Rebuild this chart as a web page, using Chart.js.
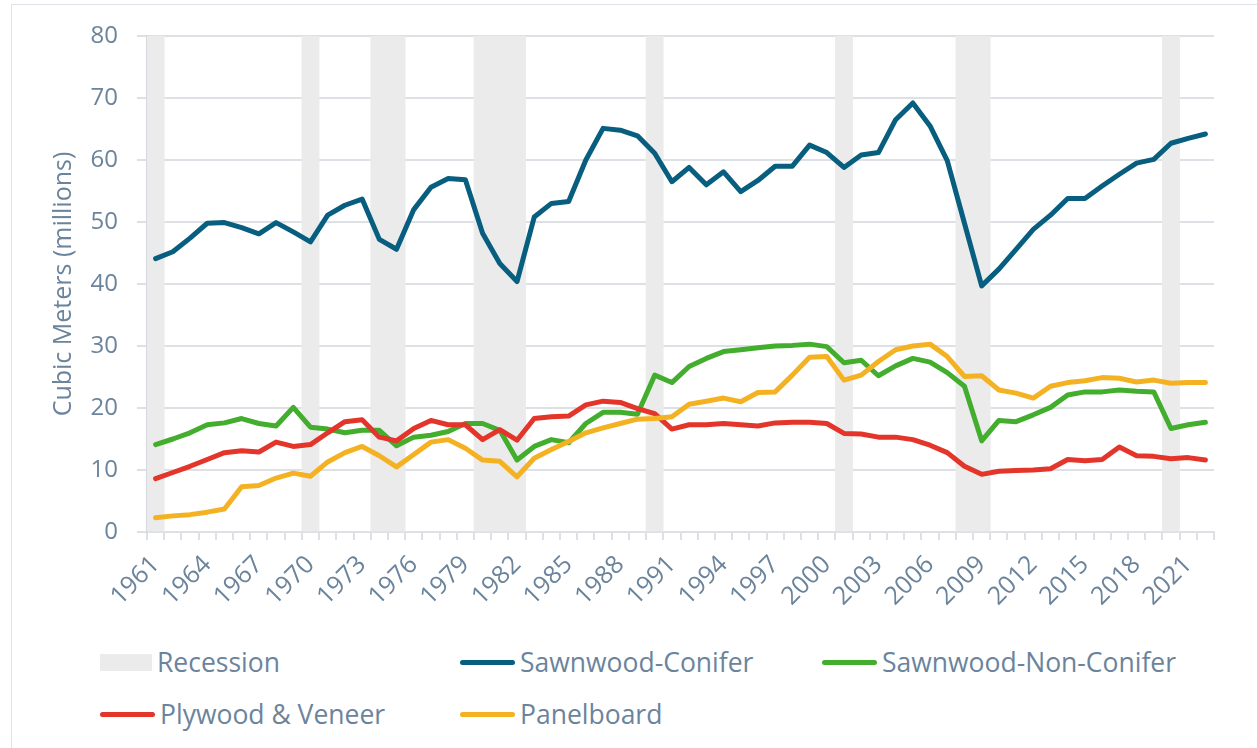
<!DOCTYPE html>
<html lang="en">
<head>
    <meta charset="UTF-8">
    <title>Wood Products Production</title>
    <script src="https://cdn.jsdelivr.net/npm/chart.js"></script>
    <style>
        body { margin: 0; background: #fff; font-family: "Open Sans", sans-serif; }
        .frame { position: absolute; left: 11px; top: 4px; width: 1300px; height: 800px;
                 border-left: 1px solid #dfe3e8; border-top: 1px solid #dfe3e8; }
        #woodChart { position: absolute; left: 0; top: 0; }
        .legend-item { position: absolute; display: flex; align-items: center; height: 30px;
                       font-size: 26.5px; color: #6b849c; white-space: nowrap; }
        .legend-item .line { width: 55px; height: 5px; border-radius: 3px; margin-right: 5px; }
        .legend-item .box { width: 52px; height: 17px; margin-right: 5px; }
    </style>
</head>
<body>
    <div class="frame"></div>
    <canvas id="woodChart" width="1257" height="640"></canvas>
    <div id="legend"></div>
    <script>
        const years = [];
        for (let y = 1961; y <= 2022; y++) years.push(String(y));

        const recessionYears = ['1961', '1970', '1974', '1975', '1980', '1981', '1982',
                                '1990', '2001', '2008', '2009', '2020'];

        // cubic meters, millions
        const sawnConifer = [
            44.1, 45.2, 47.4, 49.8, 49.9, 49.1, 48.1, 49.9, 48.4, 46.8,
            51.1, 52.7, 53.7, 47.2, 45.6, 52.0, 55.6, 57.0, 56.8, 48.2,
            43.3, 40.4, 50.8, 53.0, 53.3, 60.0, 65.1, 64.8, 63.9, 61.1,
            56.5, 58.8, 56.0, 58.1, 54.9, 56.7, 59.0, 59.0, 62.4, 61.2,
            58.8, 60.8, 61.2, 66.5, 69.2, 65.5, 59.9, 49.8, 39.7, 42.4,
            45.6, 48.8, 51.1, 53.8, 53.8, 55.8, 57.7, 59.5, 60.1, 62.7,
            63.5, 64.2
        ];
        const sawnNonConifer = [
            14.1, 15.0, 16.0, 17.3, 17.6, 18.3, 17.5, 17.1, 20.1, 16.9,
            16.6, 16.0, 16.4, 16.4, 13.9, 15.3, 15.6, 16.2, 17.5, 17.5,
            16.4, 11.6, 13.8, 14.9, 14.4, 17.5, 19.3, 19.3, 19.0, 25.3,
            24.1, 26.7, 28.0, 29.1, 29.4, 29.7, 30.0, 30.1, 30.3, 29.9,
            27.3, 27.7, 25.2, 26.8, 28.0, 27.4, 25.7, 23.5, 14.7, 18.0,
            17.8, 18.9, 20.1, 22.1, 22.6, 22.6, 22.9, 22.7, 22.6, 16.7,
            17.3, 17.7
        ];
        const plywood = [
            8.6, 9.6, 10.6, 11.7, 12.8, 13.1, 12.9, 14.5, 13.8, 14.1,
            16.0, 17.8, 18.1, 15.3, 14.7, 16.7, 18.0, 17.3, 17.3, 14.9,
            16.5, 14.8, 18.3, 18.6, 18.7, 20.5, 21.1, 20.9, 19.9, 19.1,
            16.6, 17.3, 17.3, 17.5, 17.3, 17.1, 17.6, 17.7, 17.7, 17.5,
            15.9, 15.8, 15.3, 15.3, 14.9, 14.0, 12.8, 10.6, 9.3, 9.8,
            9.9, 10.0, 10.2, 11.7, 11.5, 11.7, 13.7, 12.3, 12.2, 11.8,
            12.0, 11.6
        ];
        const panelboard = [
            2.3, 2.6, 2.8, 3.2, 3.7, 7.3, 7.5, 8.7, 9.5, 9.0,
            11.3, 12.8, 13.8, 12.3, 10.5, 12.5, 14.5, 14.9, 13.5, 11.6,
            11.4, 8.9, 11.9, 13.3, 14.6, 16.0, 16.8, 17.5, 18.2, 18.3,
            18.6, 20.6, 21.1, 21.6, 21.0, 22.5, 22.6, 25.3, 28.2, 28.3,
            24.5, 25.3, 27.5, 29.4, 30.0, 30.3, 28.3, 25.1, 25.2, 22.9,
            22.4, 21.6, 23.5, 24.1, 24.4, 24.9, 24.8, 24.2, 24.5, 24.0,
            24.1, 24.1
        ];

        const yMax = 80;
        const textColor = '#6b849c';
        const gridColor = '#dde1e6';

        const recession = years.map(y => recessionYears.includes(y) ? yMax : null);

        function lineSet(label, data, color, order) {
            return {
                type: 'line', label, data, order,
                borderColor: color, backgroundColor: color,
                borderWidth: 5, pointRadius: 0, tension: 0,
                borderCapStyle: 'round', borderJoinStyle: 'round'
            };
        }

        const ctx = document.getElementById('woodChart').getContext('2d');
        const chart = new Chart(ctx, {
            type: 'bar',
            data: {
                labels: years,
                datasets: [
                    {
                        type: 'bar', label: 'Recession', data: recession, order: 10,
                        backgroundColor: '#ebebeb', barPercentage: 1, categoryPercentage: 1
                    },
                    lineSet('Sawnwood-Conifer', sawnConifer, '#075e7e', 4),
                    lineSet('Sawnwood-Non-Conifer', sawnNonConifer, '#43ad2e', 3),
                    lineSet('Plywood & Veneer', plywood, '#e4352b', 2),
                    lineSet('Panelboard', panelboard, '#f4b223', 1)
                ]
            },
            options: {
                responsive: false,
                animation: false,
                devicePixelRatio: 1,
                layout: { padding: { top: 36, right: 43, left: 49, bottom: 0 } },
                plugins: {
                    legend: { display: false },
                    tooltip: { enabled: false }
                },
                scales: {
                    x: {
                        offset: true,
                        afterFit: scale => { scale.height = 108; },
                        grid: {
                            offset: true, drawOnChartArea: false, drawTicks: true,
                            tickLength: 8, color: gridColor, lineWidth: 2
                        },
                        border: { display: true, color: gridColor, width: 2 },
                        ticks: {
                            autoSkip: false, maxRotation: 45, minRotation: 45, padding: 10,
                            color: textColor,
                            font: { family: 'Open Sans', size: 25 },
                            callback: (v, i) => i % 3 === 0 ? years[i] : ''
                        }
                    },
                    y: {
                        min: 0, max: yMax,
                        afterFit: scale => { scale.width = 98; },
                        grid: { color: gridColor, lineWidth: 2, tickLength: 10 },
                        border: { display: true, color: '#d6dadf', width: 2 },
                        ticks: {
                            stepSize: 10, padding: 19, color: textColor,
                            font: { family: 'Open Sans', size: 24 }
                        },
                        title: {
                            display: true, text: 'Cubic Meters (millions)',
                            color: textColor, padding: 0,
                            font: { family: 'Open Sans', size: 25 }
                        }
                    }
                }
            }
        });

        // legend laid out in two rows, three columns like the original
        const legendPos = [[100, 647], [460, 647], [822, 647], [100, 699], [460, 699]];
        const legend = document.getElementById('legend');
        chart.data.datasets.forEach((ds, i) => {
            const item = document.createElement('div');
            item.className = 'legend-item';
            item.style.left = legendPos[i][0] + 'px';
            item.style.top = legendPos[i][1] + 'px';
            const mark = document.createElement('span');
            mark.className = ds.type === 'bar' ? 'box' : 'line';
            mark.style.background = ds.type === 'bar' ? ds.backgroundColor : ds.borderColor;
            item.appendChild(mark);
            item.appendChild(document.createTextNode(ds.label));
            legend.appendChild(item);
        });
    </script>
</body>
</html>
